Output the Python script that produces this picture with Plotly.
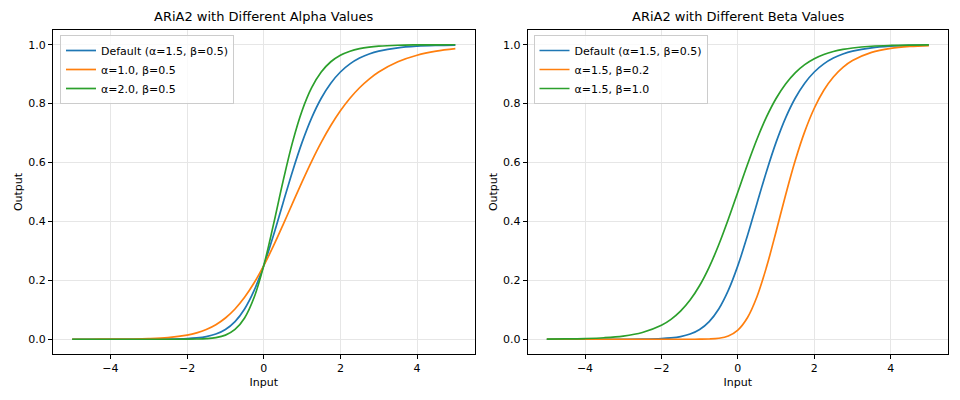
import plotly.graph_objects as go

# ---- data ----
x_vals = [-5, -4.5, -4, -3.5, -3, -2.5, -2, -1.75, -1.5, -1.25, -1, -0.75, -0.5, -0.25, 0,
          0.25, 0.5, 0.75, 1, 1.25, 1.5, 1.75, 2, 2.25, 2.5, 2.75, 3, 3.5, 4, 4.5, 5]

default_curve = [0.0000003, 0.0000014, 0.0000061, 0.0000272, 0.000121, 0.000528, 0.00225, 0.004563, 0.00909,
                 0.01768, 0.0333, 0.06007, 0.1029, 0.1659, 0.25, 0.3512, 0.4613, 0.5699, 0.6684, 0.7518,
                 0.8184, 0.8695, 0.9074, 0.9349, 0.9546, 0.9684, 0.9781, 0.9896, 0.9951, 0.9977, 0.9989]
alpha_10 = [0.0000448, 0.000121, 0.000324, 0.000859, 0.00225, 0.00576, 0.01421, 0.02192, 0.0333,
            0.04960, 0.0723, 0.1029, 0.1425, 0.1917, 0.25, 0.3160, 0.3875, 0.4613, 0.5344, 0.6042,
            0.6684, 0.7258, 0.7758, 0.8184, 0.8540, 0.8834, 0.9074, 0.9422, 0.9644, 0.9781, 0.9867]
alpha_20 = [0.0, 0.0, 0.0000001, 0.0000008, 0.0000061, 0.0000448, 0.000324, 0.000859, 0.00225,
            0.005755, 0.01421, 0.0333, 0.0723, 0.1425, 0.25, 0.3875, 0.5344, 0.6684, 0.7758, 0.8540,
            0.9074, 0.9422, 0.9644, 0.9781, 0.9867, 0.9919, 0.9951, 0.9982, 0.9993, 0.9998, 0.9999]
beta_02 = [0.0, 0.0, 0.0, 0.0, 0.0, 0.0, 0.0000002, 0.0000014, 0.0000079,
           0.0000416, 0.000202, 0.000884, 0.0034, 0.01121, 0.03125, 0.07312, 0.1445, 0.2451, 0.3653, 0.4900,
           0.6059, 0.7049, 0.7843, 0.8452, 0.8903, 0.9230, 0.9463, 0.9742, 0.9877, 0.9942, 0.9972]
beta_10 = [0.000553, 0.00117, 0.00247, 0.00522, 0.01099, 0.02298, 0.0474, 0.06755, 0.0953,
           0.1330, 0.1824, 0.2451, 0.3208, 0.4073, 0.5, 0.5927, 0.6792, 0.7549, 0.8176, 0.8670,
           0.9047, 0.9325, 0.9526, 0.9669, 0.9770, 0.9841, 0.9890, 0.9948, 0.9975, 0.9988, 0.9994]

left_names = ["Default (α=1.5, β=0.5)", "α=1.0, β=0.5", "α=2.0, β=0.5"]
right_names = ["Default (α=1.5, β=0.5)", "α=1.5, β=0.2", "α=1.5, β=1.0"]
titles = ["ARiA2 with Different Alpha Values", "ARiA2 with Different Beta Values"]
y_ticks = [0.0, 0.2, 0.4, 0.6, 0.8, 1.0]
x_ticks = [-4, -2, 0, 2, 4]

colors = ["#1f77b4", "#ff7f0e", "#2ca02c"]
FONT = "DejaVu Sans"

fig = go.Figure()

for name, ys, c in zip(left_names, [default_curve, alpha_10, alpha_20], colors):
    fig.add_trace(go.Scatter(x=x_vals, y=ys, mode="lines", name=name,
                             line=dict(color=c, width=1.7, shape="spline"),
                             xaxis="x", yaxis="y", legend="legend"))
for name, ys, c in zip(right_names, [default_curve, beta_02, beta_10], colors):
    fig.add_trace(go.Scatter(x=x_vals, y=ys, mode="lines", name=name,
                             line=dict(color=c, width=1.7, shape="spline"),
                             xaxis="x2", yaxis="y2", legend="legend2"))

axis_common = dict(
    showline=True, linecolor="black", linewidth=1, mirror=True,
    ticks="outside", ticklen=4, tickcolor="black", tickwidth=1,
    showgrid=True, gridcolor="#e6e6e6", gridwidth=1, zeroline=False,
    tickfont=dict(family=FONT, size=11, color="black"),
)

L, R, T, B = 53, 12, 30, 46
W, H = 960, 400
pw = W - L - R
ph = H - T - B
d1 = [0, (474.5 - L) / pw]
d2 = [(527.7 - L) / pw, 1]

fig.update_layout(
    width=W, height=H,
    margin=dict(l=L, r=R, t=T, b=B),
    paper_bgcolor="white", plot_bgcolor="white",
    font=dict(family=FONT, color="black"),
    xaxis=dict(domain=d1, range=[-5.5, 5.5], tickvals=x_ticks, anchor="y",
               title=dict(text="Input", font=dict(size=11), standoff=4), **axis_common),
    yaxis=dict(domain=[0, 1], range=[-0.05, 1.05], tickvals=y_ticks, tickformat=".1f", anchor="x",
               title=dict(text="Output", font=dict(size=11), standoff=3), **axis_common),
    xaxis2=dict(domain=d2, range=[-5.5, 5.5], tickvals=x_ticks, anchor="y2",
                title=dict(text="Input", font=dict(size=11), standoff=4), **axis_common),
    yaxis2=dict(domain=[0, 1], range=[-0.05, 1.05], tickvals=y_ticks, tickformat=".1f", anchor="x2",
                title=dict(text="Output", font=dict(size=11), standoff=3), **axis_common),
    legend=dict(x=(60 - L) / pw, y=1 - 5 / ph, xanchor="left", yanchor="top",
                bgcolor="rgba(255,255,255,0.8)", bordercolor="#cccccc", borderwidth=1,
                font=dict(family=FONT, size=11), tracegroupgap=0, itemwidth=30),
    legend2=dict(x=(533.5 - L) / pw, y=1 - 5 / ph, xanchor="left", yanchor="top",
                 bgcolor="rgba(255,255,255,0.8)", bordercolor="#cccccc", borderwidth=1,
                 font=dict(family=FONT, size=11), tracegroupgap=0, itemwidth=30),
    showlegend=True,
)

for dom, t in zip([d1, d2], titles):
    fig.add_annotation(text=t, x=(dom[0] + dom[1]) / 2, y=1, xref="paper", yref="paper",
                       xanchor="center", yanchor="bottom", yshift=4, showarrow=False,
                       font=dict(family=FONT, size=13, color="black"))

fig.write_html("out.html")
